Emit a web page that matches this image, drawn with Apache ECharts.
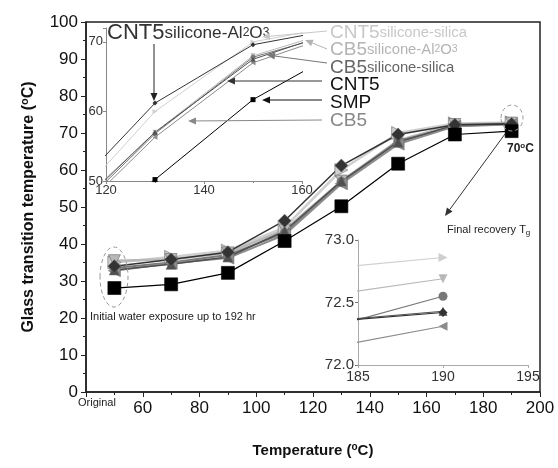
<!DOCTYPE html>
<html>
<head>
<meta charset="utf-8">
<script src="https://cdn.jsdelivr.net/npm/echarts@6/dist/echarts.min.js"></script>
<style>html,body{margin:0;padding:0;background:#fff}#chart{width:558px;height:468px}</style>
</head>
<body>
<div id="chart"></div>
<script>
// Tg after each exposure step (first point = original, 192 hr water)
const temps = [50, 70, 90, 110, 130, 150, 170, 190];
const smp = [28.1, 29.1, 32.2, 40.8, 50.2, 61.7, 69.6, 70.5];
const cnt5SiAl = [34.0, 35.8, 37.8, 46.3, 61.2, 69.6, 72.2, 72.42];
const cnt5 = [33.0, 34.5, 36.5, 43.5, 57.0, 67.5, 72.2, 72.43];
const cb5 = [32.8, 34.8, 36.2, 42.5, 56.3, 67.0, 71.8, 72.31];
const cb5SiSi = [33.5, 35.0, 37.0, 43.0, 56.8, 67.8, 71.8, 72.55];
const cb5SiAl = [35.5, 35.8, 37.6, 43.8, 57.0, 68.0, 72.3, 72.69];
const cnt5SiSi = [35.0, 36.5, 38.2, 44.5, 60.0, 70.0, 72.6, 72.86];

const yTicks = [0, 10, 20, 30, 40, 50, 60, 70, 80, 90, 100];
const xTicks = [40, 60, 80, 100, 120, 140, 160, 180, 200];

const FONT = 'Liberation Sans, Arial, sans-serif';

// light ones first so darker lines sit on top
const defs = [
  { name: 'CNT5silicone-silica', data: cnt5SiSi, color: '#cfcfcf', symbol: 'triangle', rotate: -90, size: 13, lw: 2.5 },
  { name: 'CB5silicone-Al2O3', data: cb5SiAl, color: '#b8b8b8', symbol: 'triangle', rotate: 180, size: 12, lw: 2.5 },
  { name: 'CB5silicone-silica', data: cb5SiSi, color: '#787878', symbol: 'circle', rotate: 0, size: 9, lw: 2 },
  { name: 'CB5', data: cb5, color: '#8c8c8c', symbol: 'triangle', rotate: 90, size: 12, lw: 2 },
  { name: 'CNT5', data: cnt5, color: '#505050', symbol: 'triangle', rotate: 0, size: 10, lw: 1.5 },
  { name: 'CNT5silicone-Al2O3', data: cnt5SiAl, color: '#333333', symbol: 'diamond', rotate: 0, size: 13, lw: 1.5 },
  { name: 'SMP', data: smp, color: '#000000', symbol: 'rect', rotate: 0, size: 13, lw: 1.2 }
];

function pairs(vals) {
  return temps.map((t, i) => [t, vals[i]]);
}

const series = [];
defs.forEach(d => {
  series.push({
    name: d.name, type: 'line', xAxisIndex: 0, yAxisIndex: 0,
    data: pairs(d.data), symbol: d.symbol, symbolRotate: d.rotate, symbolSize: d.size,
    itemStyle: { color: d.color, borderColor: d.color === '#000000' ? '#000' : '#666', borderWidth: 0.6 },
    lineStyle: { color: d.color, width: d.lw }, animation: false
  });
  // top-left zoom inset
  series.push({
    name: d.name, type: 'line', xAxisIndex: 1, yAxisIndex: 1,
    data: pairs(d.data), symbol: d.symbol, symbolRotate: d.rotate, symbolSize: 5,
    itemStyle: { color: d.color }, lineStyle: { color: d.color, width: 1 }, animation: false
  });
  // bottom-right final recovery inset
  series.push({
    name: d.name, type: 'line', xAxisIndex: 2, yAxisIndex: 2,
    data: pairs(d.data), symbol: d.symbol, symbolRotate: d.rotate, symbolSize: 9,
    itemStyle: { color: d.color }, lineStyle: { color: d.color, width: 1.2 }, animation: false
  });
});

function arrow(x1, y1, x2, y2, color, w) {
  const a = Math.atan2(y2 - y1, x2 - x1), L = 8, W = 3.5;
  const bx = x2 - L * Math.cos(a), by = y2 - L * Math.sin(a);
  return [
    { type: 'line', z: 100, shape: { x1: x1, y1: y1, x2: bx, y2: by }, style: { stroke: color, lineWidth: w || 1 } },
    { type: 'polygon', z: 100, shape: { points: [[x2, y2], [bx - W * Math.sin(a), by + W * Math.cos(a)], [bx + W * Math.sin(a), by - W * Math.cos(a)]] }, style: { fill: color } }
  ];
}

function label(x, y, text, color, big) {
  return {
    type: 'text', z: 100, left: x, top: y,
    style: {
      text: text, fill: color,
      rich: {
        a: { fontFamily: FONT, fontSize: big, fill: color },
        b: { fontFamily: FONT, fontSize: big * 0.78, fill: color },
        s: { fontFamily: FONT, fontSize: big * 0.55, fill: color }
      }
    }
  };
}

const axisText = { fontFamily: FONT, color: '#111' };

const option = {
  backgroundColor: '#fff',
  animation: false,
  grid: [
    { left: 86, right: 18, top: 22, bottom: 76, show: true, borderColor: '#222', borderWidth: 1.5 },
    { left: 106, width: 196, top: 28, height: 153 },
    { left: 358, width: 170, top: 240, height: 125 }
  ],
  xAxis: [
    {
      type: 'value', gridIndex: 0, min: 40, max: 200, interval: 20,
      axisLine: { lineStyle: { color: '#222', width: 1.5 } },
      axisTick: { length: 5, lineStyle: { color: '#222' } },
      minorTick: { show: true, splitNumber: 2, length: 3, lineStyle: { color: '#222' } },
      splitLine: { show: false },
      axisLabel: Object.assign({ fontSize: 17, margin: 8, formatter: v => (xTicks.indexOf(v) > 0 ? String(v) : '') }, axisText),
      name: 'Temperature ({sup|o}C)', nameLocation: 'middle', nameGap: 50,
      nameTextStyle: { fontFamily: FONT, fontSize: 15, fontWeight: 'bold', color: '#111',
        rich: { sup: { fontFamily: FONT, fontSize: 10, fontWeight: 'bold', verticalAlign: 'top', padding: [0, 0, 8, 0] } } }
    },
    {
      type: 'value', gridIndex: 1, min: 120, max: 160, interval: 20,
      axisLine: { onZero: false, lineStyle: { color: '#888', width: 1 } },
      axisTick: { length: 3, lineStyle: { color: '#888' } },
      minorTick: { show: true, splitNumber: 2, length: 2, lineStyle: { color: '#888' } },
      splitLine: { show: false },
      axisLabel: { fontFamily: FONT, fontSize: 13, color: '#333', margin: 3 }
    },
    {
      type: 'value', gridIndex: 2, min: 185, max: 195, interval: 5,
      axisLine: { onZero: false, lineStyle: { color: '#aaa', width: 1 } },
      axisTick: { length: 3, lineStyle: { color: '#aaa' } },
      splitLine: { show: false },
      axisLabel: { fontFamily: FONT, fontSize: 14, color: '#333', margin: 5 }
    }
  ],
  yAxis: [
    {
      type: 'value', gridIndex: 0, min: 0, max: 100, interval: 10,
      axisLine: { show: true, lineStyle: { color: '#222', width: 1.5 } },
      axisTick: { show: true, length: 5, lineStyle: { color: '#222' } },
      minorTick: { show: true, splitNumber: 2, length: 3, lineStyle: { color: '#222' } },
      splitLine: { show: false },
      axisLabel: Object.assign({ fontSize: 17, margin: 8 }, axisText),
      name: 'Glass transition temperature ({sup|o}C)', nameLocation: 'middle', nameGap: 48,
      nameTextStyle: { fontFamily: FONT, fontSize: 16, fontWeight: 'bold', color: '#111',
        rich: { sup: { fontFamily: FONT, fontSize: 11, fontWeight: 'bold', verticalAlign: 'top', padding: [0, 0, 8, 0] } } }
    },
    {
      type: 'value', gridIndex: 1, min: 50, max: 72, interval: 10,
      axisLine: { show: true, onZero: false, lineStyle: { color: '#888', width: 1 } },
      axisTick: { show: true, length: 3, lineStyle: { color: '#888' } },
      splitLine: { show: false },
      axisLabel: { fontFamily: FONT, fontSize: 13, color: '#333', margin: 3, formatter: v => (v <= 70 ? String(v) : '') }
    },
    {
      type: 'value', gridIndex: 2, min: 72, max: 73, interval: 0.5,
      axisLine: { show: true, onZero: false, lineStyle: { color: '#aaa', width: 1 } },
      axisTick: { show: true, length: 3, lineStyle: { color: '#777' } },
      splitLine: { show: false },
      axisLabel: { fontFamily: FONT, fontSize: 15, color: '#333', margin: 4, formatter: v => v.toFixed(1) }
    }
  ],
  series: series,
  graphic: [].concat(
    [
      { type: 'text', z: 100, left: 78, top: 397, style: { text: 'Original', fontFamily: FONT, fontSize: 11, fill: '#222' } },
      label(107, 22, '{a|CNT5}{b|silicone-Al}{s|2}{b|O}{s|3}', '#333', 22),
      label(330, 23, '{a|CNT5}{b|silicone-silica}', '#c8c8c8', 19),
      label(330, 40, '{a|CB5}{b|silicone-Al}{s|2}{b|O}{s|3}', '#b4b4b4', 19),
      label(330, 58, '{a|CB5}{b|silicone-silica}', '#666', 19),
      label(330, 75, '{a|CNT5}', '#111', 19),
      label(330, 93, '{a|SMP}', '#111', 19),
      label(330, 111, '{a|CB5}', '#888', 19),
      {
        type: 'text', z: 100, left: 507, top: 142,
        style: { text: '70{sup|o}C', fontFamily: FONT, fontSize: 12, fontWeight: 'bold', fill: '#222',
          rich: { sup: { fontFamily: FONT, fontSize: 8, fontWeight: 'bold', verticalAlign: 'top', padding: [0, 0, 5, 0] } } }
      },
      {
        type: 'text', z: 100, left: 447, top: 224,
        style: { text: 'Final recovery T{sub|g}', fontFamily: FONT, fontSize: 11, fill: '#222',
          rich: { sub: { fontFamily: FONT, fontSize: 8, padding: [6, 0, 0, 0] } } }
      },
      { type: 'text', z: 100, left: 90, top: 311, style: { text: 'Initial water exposure up to 192 hr', fontFamily: FONT, fontSize: 11, fill: '#222' } },
      { type: 'ellipse', z: 90, shape: { cx: 114, cy: 277, rx: 14, ry: 30 }, style: { fill: 'none', stroke: '#999', lineWidth: 1, lineDash: [4, 3] } },
      { type: 'ellipse', z: 90, shape: { cx: 512, cy: 118, rx: 11, ry: 13 }, style: { fill: 'none', stroke: '#999', lineWidth: 1, lineDash: [4, 3] } }
    ],
    arrow(154, 44, 154, 101, '#222', 1),
    arrow(327, 31, 262, 37, '#c8c8c8', 1),
    arrow(327, 49, 305, 40, '#b4b4b4', 1),
    arrow(327, 63, 267, 55, '#777', 1),
    arrow(322, 81, 227, 81, '#333', 1),
    arrow(322, 100, 262, 100, '#111', 1),
    arrow(322, 120, 188, 121, '#888', 1),
    arrow(505, 134, 445, 216, '#333', 1)
  )
};

const chart = echarts.init(document.getElementById('chart'));
chart.setOption(option);
</script>
</body>
</html>
